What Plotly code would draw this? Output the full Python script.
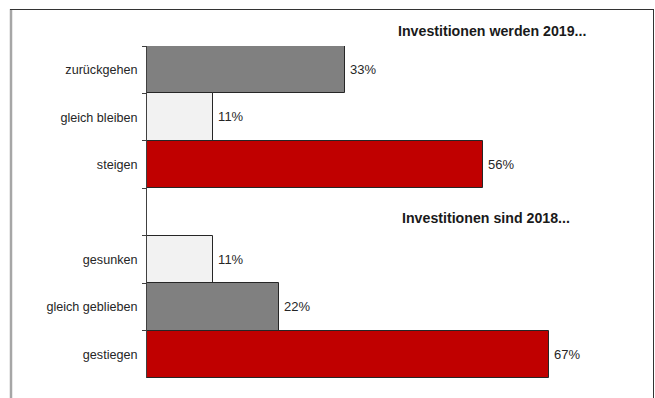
import plotly.graph_objects as go

# Survey answers, listed top to bottom; the blank entry separates the two blocks
categories = ["zurückgehen", "gleich bleiben", "steigen", " ",
              "gesunken", "gleich geblieben", "gestiegen"]
values = [33, 11, 56, None, 11, 22, 67]
colors = ["#808080", "#f2f2f2", "#c00000", "#ffffff",
          "#f2f2f2", "#808080", "#c00000"]
titles = ["Investitionen werden 2019...", "Investitionen sind 2018..."]

W, H = 655, 398
L, T, R, B = 147, 46, 28, 20
pw, ph = W - L - R, H - T - B


def px_x(px):
    return (px - L) / pw


def px_y(py):
    return (H - B - py) / ph


font = "Liberation Sans, Arial, sans-serif"

fig = go.Figure(
    go.Bar(
        y=categories,
        x=values,
        orientation="h",
        marker=dict(color=colors, line=dict(color="#262626", width=1)),
        text=[f"\u2009{v}%" if v is not None else "" for v in values],
        textposition="outside",
        textfont=dict(family=font, size=13, color="#262626"),
        cliponaxis=False,
        hoverinfo="skip",
    )
)

fig.update_layout(
    width=W,
    height=H,
    margin=dict(l=L, r=R, t=T, b=B),
    paper_bgcolor="white",
    plot_bgcolor="white",
    bargap=0,
    showlegend=False,
    xaxis=dict(range=[0, pw / 6.0], visible=False, fixedrange=True),
    yaxis=dict(
        type="category",
        categoryorder="array",
        categoryarray=categories,
        autorange="reversed",
        showline=True,
        linecolor="#404040",
        linewidth=1,
        ticks="outside",
        ticklen=4,
        tickcolor="#404040",
        tickson="boundaries",
        ticklabelstandoff=6,
        showgrid=False,
        tickfont=dict(family=font, size=12.6, color="#262626"),
        fixedrange=True,
    ),
)

# Block headings
for text, cx, cy in [(titles[0], 492, 31), (titles[1], 486, 218)]:
    fig.add_annotation(text=f"<b>{text}</b>", xref="paper", yref="paper",
                       x=px_x(cx), y=px_y(cy), xanchor="center",
                       yanchor="middle", showarrow=False,
                       font=dict(family=font, size=14.2, color="#1a1a1a"))

# Frame around the chart
fig.add_shape(type="line", xref="paper", yref="paper",
              x0=px_x(11), x1=px_x(11), y0=px_y(9), y1=px_y(400),
              line=dict(color="#a6a6a6", width=2.5))
fig.add_shape(type="line", xref="paper", yref="paper",
              x0=px_x(10), x1=px_x(653.5), y0=px_y(9.5), y1=px_y(9.5),
              line=dict(color="#333333", width=1))
fig.add_shape(type="line", xref="paper", yref="paper",
              x0=px_x(653.5), x1=px_x(653.5), y0=px_y(9), y1=px_y(400),
              line=dict(color="#333333", width=1))

fig.write_html("out.html")
